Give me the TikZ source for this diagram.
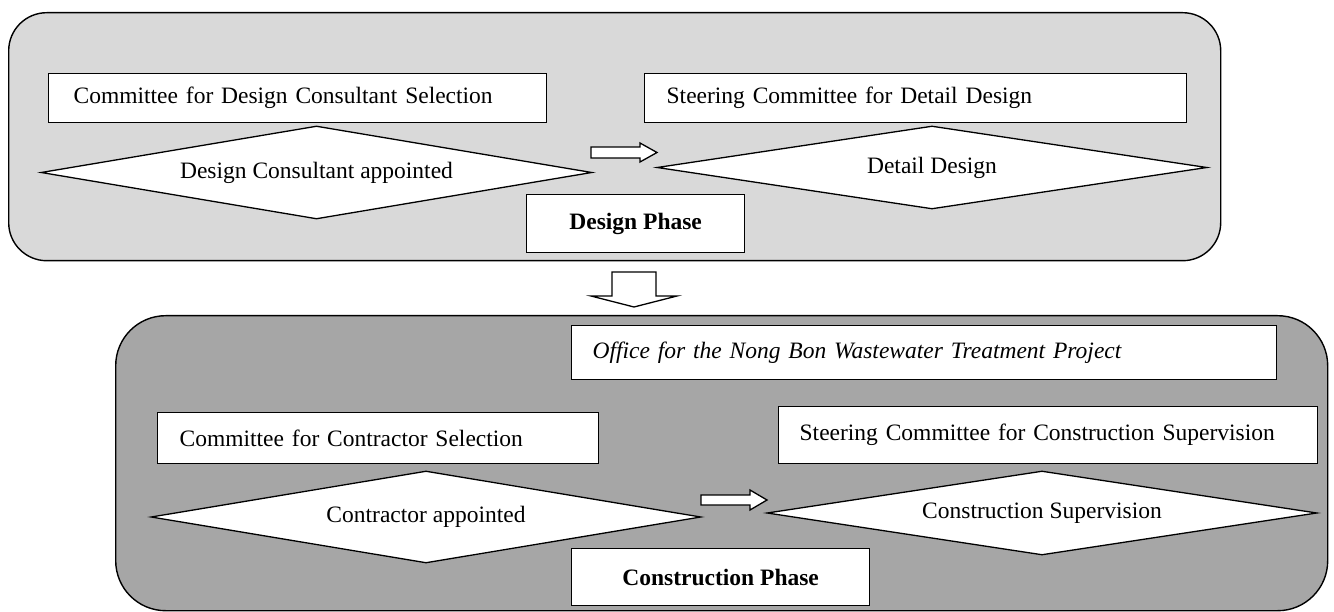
\documentclass[tikz,border=0pt]{standalone}
\usepackage{fontspec}
\setmainfont{Liberation Serif}
\usetikzlibrary{shapes.geometric}
\definecolor{designfill}{HTML}{D9D9D9}
\definecolor{buildfill}{HTML}{A6A6A6}
\begin{document}
\begin{tikzpicture}[x=1pt,y=-1pt,
  label font/.style={font=\fontsize{23.5}{28}\selectfont},
  panel/.style={draw, line width=1.4pt, inner sep=0pt, anchor=north west},
  box/.style={draw, fill=white, line width=1.3pt, anchor=north west,
    align=left, inner ysep=0pt, label font},
  phasebox/.style={draw, fill=white, line width=1.3pt, anchor=north west,
    inner sep=0pt, label font, font=\fontsize{23.5}{28}\selectfont\bfseries},
  decision/.style={diamond, draw, fill=white, line width=1.3pt,
    inner sep=0pt, aspect=6, label font},
  blockarrow/.style={draw, fill=white, line width=1.3pt, line join=miter},
]
\useasboundingbox (0,0) rectangle (1334,612);

% phase panels
\node[panel, fill=designfill, rounded corners=38pt,
  minimum width=1212pt, minimum height=248pt] (design) at (8,12) {};
\node[panel, fill=buildfill, rounded corners=50pt,
  minimum width=1212pt, minimum height=295pt] (construction) at (115,315) {};

% design phase
\node[box, inner xsep=25pt, text width=448pt, minimum height=49pt]
  (selconsult) at (48,73) {Committee for Design Consultant Selection};
\node[decision, minimum width=551pt, minimum height=93pt]
  (consult) at (316.5,172.5) {Design Consultant appointed};
\node[box, inner xsep=22pt, text width=498pt, minimum height=49pt]
  (steerdesign) at (644,73) {Steering Committee for Detail Design};
\node[decision, minimum width=550pt, minimum height=83pt]
  (detail) at (932,167.5) {Detail Design};
\node[phasebox, minimum width=218pt, minimum height=58pt]
  (designphase) at (526,194) {Design Phase};

% block arrow between design steps
\draw[blockarrow] (591,147) -- (640,147) -- (640,143) -- (657,152.5)
  -- (640,162) -- (640,158) -- (591,158) -- cycle;

% block arrow from design to construction
\draw[blockarrow] (612,272) -- (656,272) -- (656,296) -- (677,296)
  -- (634,307) -- (591,296) -- (612,296) -- cycle;

% construction phase
\node[box, inner xsep=21pt, text width=663pt, minimum height=54pt,
  font=\fontsize{23.5}{28}\selectfont\itshape]
  (office) at (571,325) {Office for the Nong Bon Wastewater Treatment Project};
\node[box, inner xsep=22pt, text width=397pt, minimum height=51pt]
  (selcontract) at (157,412) {Committee for Contractor Selection};
\node[decision, minimum width=550pt, minimum height=92pt]
  (contract) at (426,517) {Contractor appointed};
\node[box, inner xsep=21pt, text width=497pt, minimum height=57pt]
  (steersuper) at (778,406) {Steering Committee for Construction Supervision};
\node[decision, minimum width=550pt, minimum height=84pt]
  (supervision) at (1042,513) {Construction Supervision};
\node[phasebox, minimum width=298pt, minimum height=57pt]
  (buildphase) at (571,548) {Construction Phase};

% block arrow between construction steps
\draw[blockarrow] (701,495) -- (750,495) -- (750,490) -- (767,500)
  -- (750,510) -- (750,505) -- (701,505) -- cycle;
\end{tikzpicture}
\end{document}
